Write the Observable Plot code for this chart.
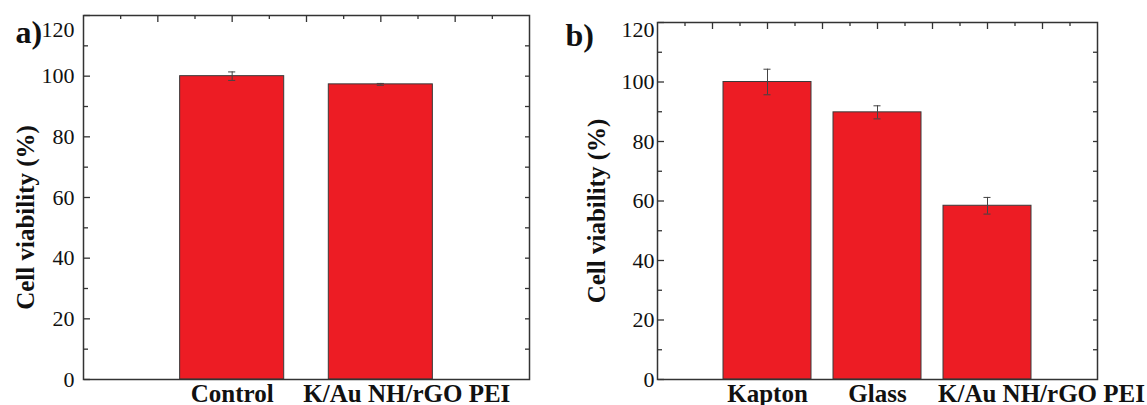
<!DOCTYPE html>
<html><head><meta charset="utf-8">
<script src="https://cdn.jsdelivr.net/npm/d3@7"></script>
<script src="https://cdn.jsdelivr.net/npm/@observablehq/plot@0.6"></script>
<style>
body{margin:0;background:#fff;}
#wrap{position:relative;width:1147px;height:405px;overflow:hidden;background:#fff;}
.panel{position:absolute;top:0;}
</style></head><body>
<div id="wrap"><div id="pa" class="panel" style="left:0"></div><div id="pb" class="panel" style="left:560px"></div></div>
<script>
const categoriesA = ["Control", "K/Au NH/rGO PEI"];
const viabilityA = [100.0, 97.3];
const errorA = [1.4, 0.3];
const categoriesB = ["Kapton", "Glass", "K/Au NH/rGO PEI"];
const viabilityB = [100.0, 89.8, 58.4];
const errorB = [4.3, 2.2, 2.8];
const yTickLabels = [0, 20, 40, 60, 80, 100];
const yTopLabel = [120];
const yMajorTicks = [0, 20, 40, 60, 80, 100, 120];
const yMinorTicks = [10, 30, 50, 70, 90, 110];
const yRightTicks = [10, 20, 30, 40, 50, 60, 70, 80, 90, 100, 110];
const yAxisTitle = "Cell viability (%)";
const panelLetters = ["a)", "b)"];

const FONT = "'Liberation Serif', 'Times New Roman', 'DejaVu Serif', serif";
const RED = "#ED1C24";
const DARK = "#333";
const noText = () => "";

function panel(cfg) {
  const rows = cfg.categories.map((c, i) => ({name: c, pos: i + 1, v: cfg.values[i], e: cfg.errors[i]}));
  const n = rows.length;
  const xMax = n + 1;
  const xMajor = d3.range(0.5, xMax, 0.5);
  const xMinor = d3.range(0.25, xMax, 0.5);
  const bw = cfg.barWidth, cw = cfg.capHalf;
  const tickStyle = {tickFormat: noText, label: null, stroke: DARK, strokeWidth: 1.3, fontSize: 1};
  return Plot.plot({
    width: cfg.width, height: 405,
    marginLeft: cfg.ml, marginRight: cfg.mr, marginTop: cfg.mt, marginBottom: cfg.mb,
    style: {fontFamily: FONT, color: "#111", background: "white", overflow: "visible"},
    x: {type: "linear", domain: [0, xMax]},
    y: {domain: [0, 120]},
    marks: [
      Plot.rect(rows, {x1: d => d.pos - bw / 2, x2: d => d.pos + bw / 2, y1: d => 0, y2: "v", fill: RED, stroke: "#3a3a3a", strokeWidth: 1}),
      Plot.ruleX(rows, {x: "pos", y1: d => d.v - d.e, y2: d => d.v + d.e, stroke: "#444", strokeWidth: 1}),
      Plot.ruleY(rows, {y: d => d.v + d.e, x1: d => d.pos - cw, x2: d => d.pos + cw, stroke: "#444", strokeWidth: 1}),
      Plot.ruleY(rows, {y: d => d.v - d.e, x1: d => d.pos - cw, x2: d => d.pos + cw, stroke: "#444", strokeWidth: 1}),
      // inward ticks
      Plot.axisY(yMajorTicks, {anchor: "right", frameAnchor: "left", tickSize: 6, ...tickStyle}),
      Plot.axisY(yMinorTicks, {anchor: "right", frameAnchor: "left", tickSize: 4, ...tickStyle}),
      Plot.axisY(yRightTicks, {anchor: "left", frameAnchor: "right", tickSize: 4, ...tickStyle}),
      Plot.axisX(xMajor, {anchor: "bottom", frameAnchor: "top", tickSize: 7, ...tickStyle}),
      Plot.axisX(xMinor, {anchor: "bottom", frameAnchor: "top", tickSize: 4, ...tickStyle}),
      Plot.frame({stroke: DARK, strokeWidth: 1.5}),
      // y tick labels
      Plot.axisY(yTickLabels, {anchor: "left", tickSize: 0, tickPadding: cfg.pad, fontSize: 22, label: null, fill: "#111"}),
      Plot.axisY(yTopLabel, {anchor: "left", tickSize: 0, tickPadding: cfg.pad, dy: cfg.topDy, fontSize: 22, label: null, fill: "#111"}),
      // category labels
      Plot.text(rows.slice(0, n - 1), {x: "pos", text: "name", frameAnchor: "bottom", lineAnchor: "top", dy: 5, fontSize: 25, fontWeight: "bold", fill: "#111"}),
      Plot.text(rows.slice(n - 1), {x: "pos", text: "name", frameAnchor: "bottom", lineAnchor: "top", dy: 5, dx: cfg.lastDx, fontSize: 25, fontWeight: "bold", fill: "#111"}),
      // y title
      Plot.text([yAxisTitle], {frameAnchor: "left", textAnchor: "middle", lineAnchor: "middle", rotate: -90, dx: cfg.titleDx, dy: cfg.titleDy, fontSize: 25, fontWeight: "bold", fill: "#111"}),
      // panel letter
      Plot.text([cfg.letter], {frameAnchor: "top-left", textAnchor: "start", lineAnchor: "middle", dx: cfg.letterDx, dy: cfg.letterDy, fontSize: 32, fontWeight: "bold", fill: "#111"})
    ]
  });
}

document.getElementById("pa").append(panel({
  categories: categoriesA, values: viabilityA, errors: errorA,
  width: 560, ml: 83, mr: 31, mt: 15, mb: 26,
  barWidth: 0.7, capHalf: 0.024, pad: 9, topDy: 14,
  lastDx: 26, titleDx: -58, titleDy: 20, letter: panelLetters[0], letterDx: -68, letterDy: 17
}));
document.getElementById("pb").append(panel({
  categories: categoriesB, values: viabilityB, errors: errorB,
  width: 587, ml: 97, mr: 50, mt: 22, mb: 26,
  barWidth: 0.8, capHalf: 0.032, pad: 3, topDy: 7,
  lastDx: 54, titleDx: -61, titleDy: 10, letter: panelLetters[1], letterDx: -92, letterDy: 13
}));
</script>
</body></html>
